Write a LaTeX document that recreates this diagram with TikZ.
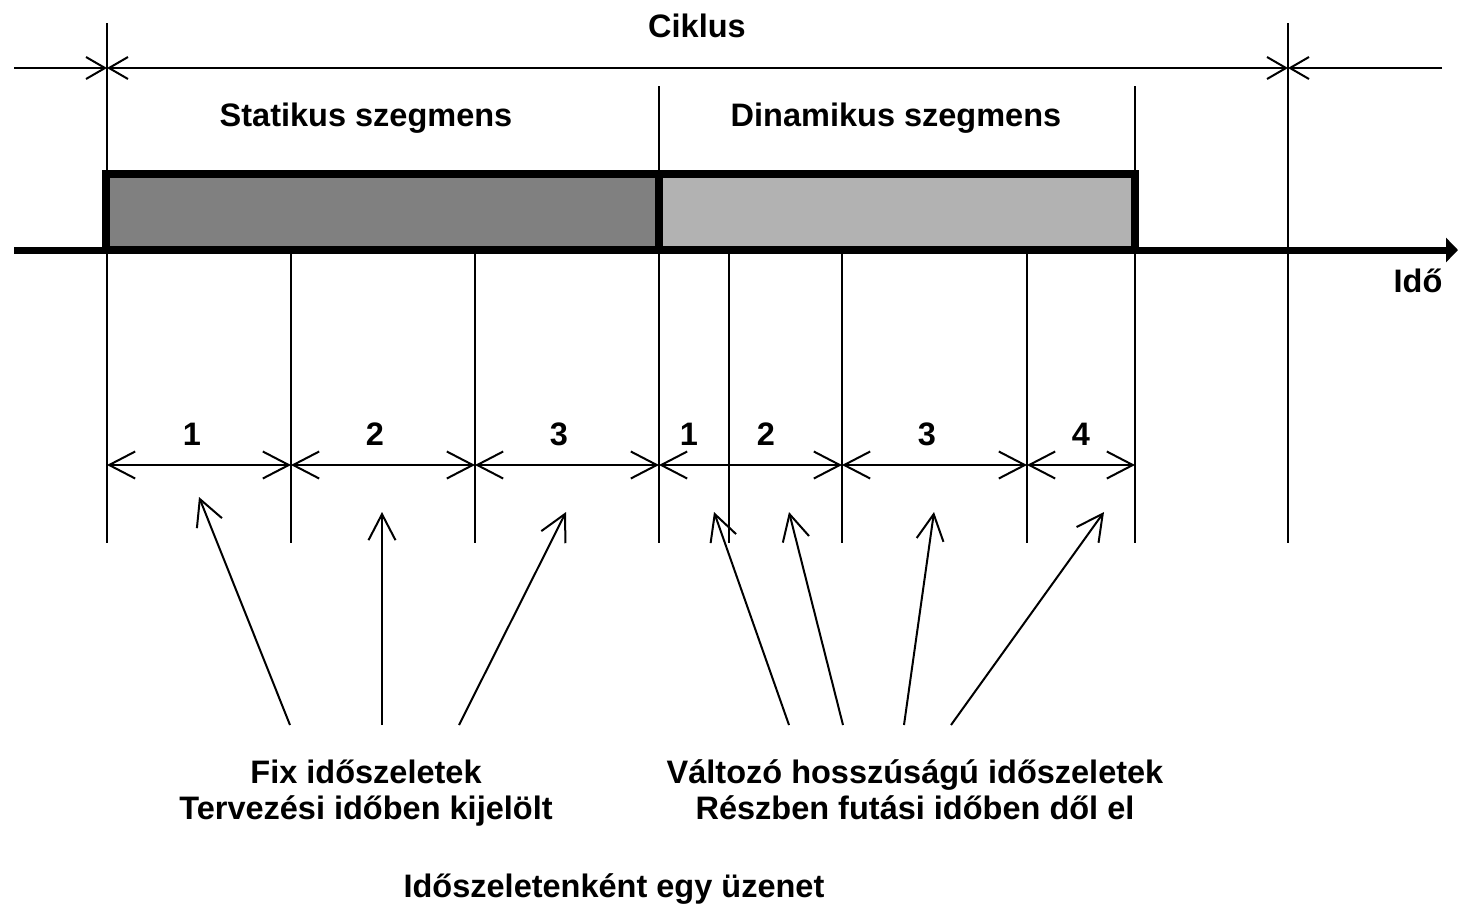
\documentclass[tikz,border=0pt]{standalone}
\usepackage{fontspec}
\setmainfont{Liberation Sans}
\usetikzlibrary{arrows.meta}
\definecolor{statgray}{HTML}{808080}
\definecolor{dyngray}{HTML}{B2B2B2}

\begin{document}
\begin{tikzpicture}[x=0.5pt, y=-0.5pt, line width=1pt,
    font=\bfseries\fontsize{16.25}{18}\selectfont,
    lbl/.style = {anchor=base, inner sep=0pt},
    cyc/.style = {{Straight Barb[length=9.5pt,width=11pt]}-{Straight Barb[length=9.5pt,width=11pt]}},
    cycin/.style = {-{Straight Barb[length=9.5pt,width=11pt]}},
    dim/.style = {{Straight Barb[length=13pt,width=13.5pt]}-{Straight Barb[length=13pt,width=13.5pt]}},
    ptr/.style = {-{Straight Barb[length=13pt,width=13.5pt]}},
    seg/.style = {draw, line width=4pt}]
    \useasboundingbox (0,0) rectangle (1458,912);
    % labels on top
    \node[lbl] (ciklus) at (697,37) {Ciklus};
    \node[lbl] (stat) at (366,126) {Statikus szegmens};
    \node[lbl] (dyn) at (896,126) {Dinamikus szegmens};
    \node[lbl] (ido) at (1418,292) {Idő};
    % vertical lines
    \foreach \n/\x/\t in {a/107/23, b/291/250, c/475/250, d/659/86, e/729/250,
                          f/842/250, g/1027/250, h/1135/86, k/1288/23} {
        \coordinate (\n1) at (\x,\t);
        \coordinate (\n2) at (\x,543);
        \coordinate (\n3) at (\x,465);
        \draw (\n1) -- (\n2);
    }
    % cycle
    \coordinate (cl) at (14,68);
    \coordinate (cr) at (1442,68);
    \coordinate (a0) at (107,68);
    \coordinate (k0) at (1288,68);
    \draw[cycin] (cl) -- (a0);
    \draw[cyc] (a0) -- (k0);
    \draw[cycin] (cr) -- (k0);
    % segments and time axis
    \draw[seg, fill=statgray] (106,174) rectangle (659,250);
    \draw[seg, fill=dyngray] (659,174) rectangle (1135,250);
    \coordinate (t0) at (14,250);
    \coordinate (t1) at (1458,250);
    \draw[line width=3.5pt, -{Triangle[length=6pt,width=12pt]}] (t0) -- (t1);
    % slots
    \foreach \p/\q in {a/b, b/c, c/d, d/f, f/g, g/h}
        \draw[dim] (\p3) -- (\q3);
    \foreach \i/\x/\l in {1/192/1, 2/375/2, 3/559/3, 4/689/1, 5/766/2, 6/927/3, 7/1081/4}
        \node[lbl] (n\i) at (\x,445) {\l};
    % pointers
    \foreach \i/\sx/\ex/\ey in {1/290/199/497, 2/382/382/512, 3/459/566/512,
                                4/789/714/512, 5/843/789/512, 6/904/934/512, 7/951/1104/512} {
        \coordinate (s\i) at (\sx,725);
        \coordinate (e\i) at (\ex,\ey);
        \draw[ptr] (s\i) -- (e\i);
    }
    % notes
    \node[lbl] (fix1) at (366,783) {Fix időszeletek};
    \node[lbl] (fix2) at (366,819) {Tervezési időben kijelölt};
    \node[lbl] (var1) at (915,783) {Változó hosszúságú időszeletek};
    \node[lbl] (var2) at (915,819) {Részben futási időben dől el};
    \node[lbl] (note) at (614,897) {Időszeletenként egy üzenet};
\end{tikzpicture}
\end{document}
